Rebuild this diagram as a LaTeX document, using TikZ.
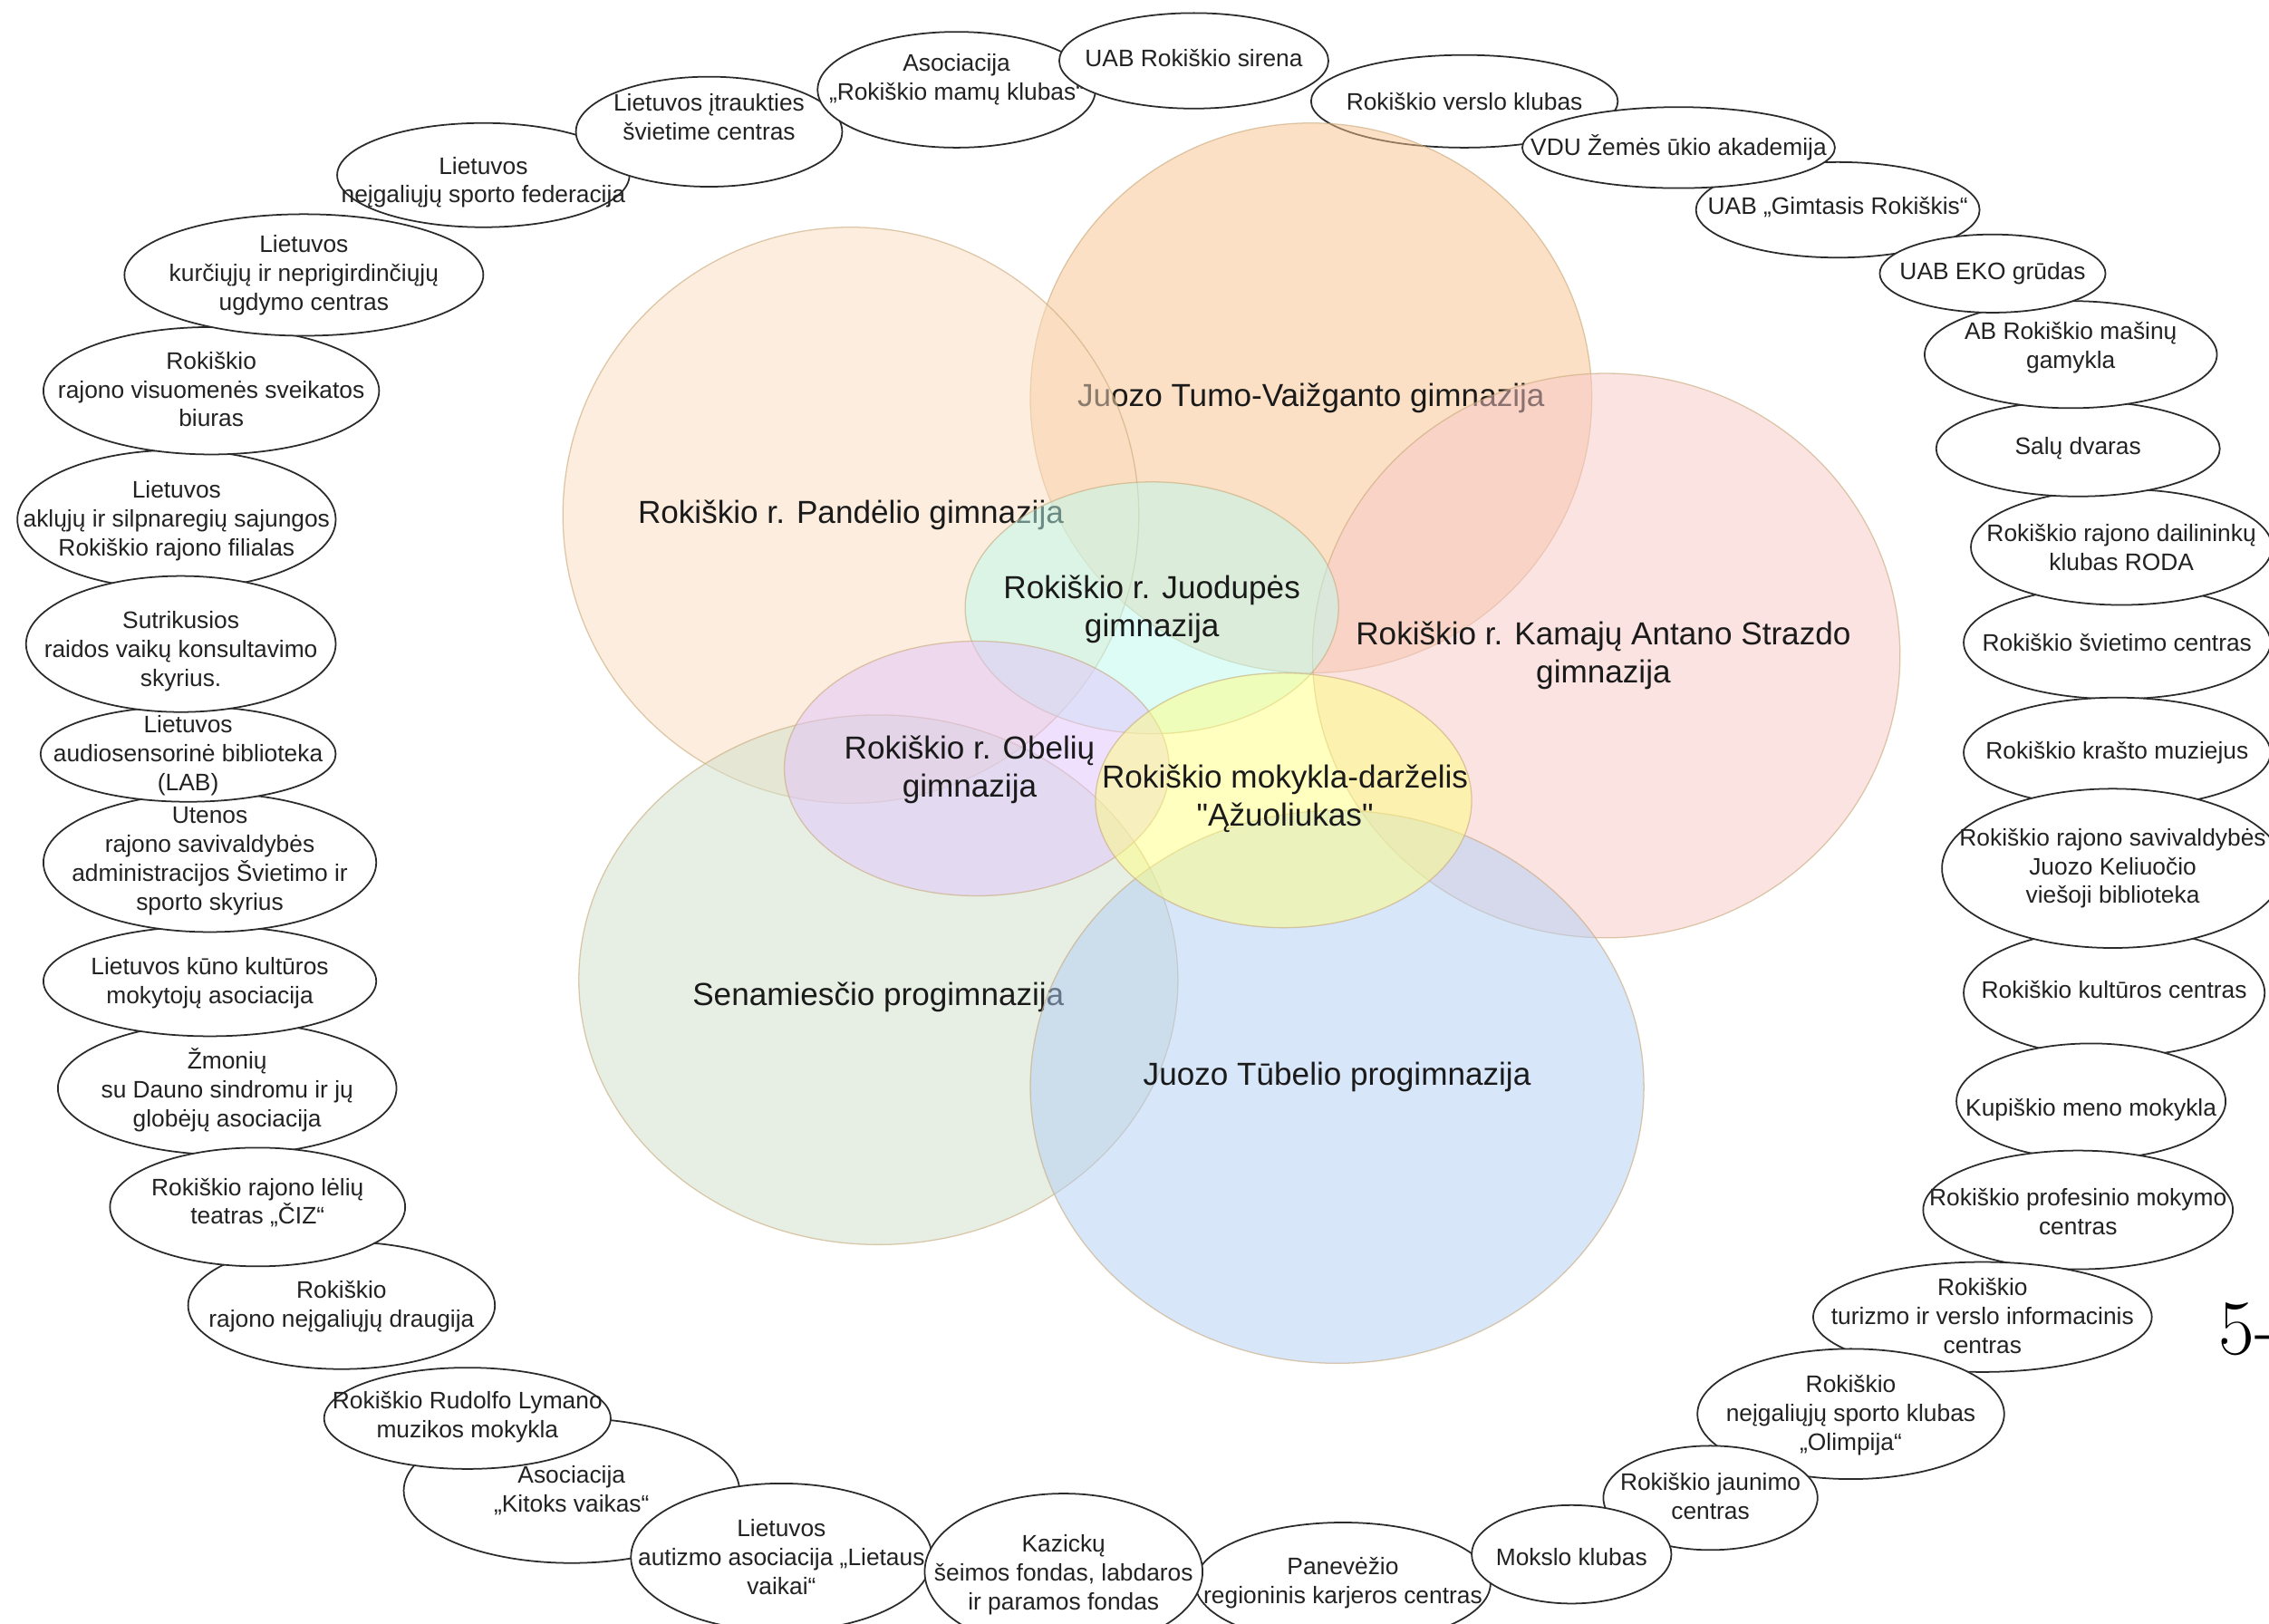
\documentclass[tikz,border=0pt]{standalone}
\usepackage{fontspec}
\usetikzlibrary{shapes.geometric}
\newfontfamily\arialf{Liberation Sans}
\definecolor{orgline}{HTML}{2B2B2B}
\definecolor{orgtxt}{HTML}{222222}
\definecolor{venntxt}{HTML}{1A1A1A}
\definecolor{vennline}{HTML}{C8A878}
\definecolor{cTumo}{HTML}{F9C38D}
\definecolor{cPand}{HTML}{FBDDBF}
\definecolor{cKam}{HTML}{F9C9C7}
\definecolor{cSen}{HTML}{D1E1CB}
\definecolor{cTub}{HTML}{B3CFF5}
\definecolor{cJuod}{HTML}{BDFBEF}
\definecolor{cObel}{HTML}{E1C4FD}
\definecolor{cAzuol}{HTML}{FFFF80}
\tikzset{
  orgshape/.style={ellipse, draw=orgline, line width=1.1pt, fill=white, inner sep=0pt, outer sep=0pt},
  orgtext/.style={font=\arialf\fontsize{16.5}{20}\selectfont, text=orgtxt, align=center, inner sep=0pt},
  vennshape/.style={ellipse, draw=vennline, draw opacity=0.6, line width=0.8pt, fill opacity=0.5, inner sep=0pt, outer sep=0pt},
  venntext/.style={font=\arialf\fontsize{22}{26.5}\selectfont, text=venntxt, align=center, inner sep=0pt, text opacity=1, fill opacity=1, draw opacity=1},
}
\newcommand{\orgell}[7]{%
  \node[orgshape, minimum width={2*(#4)}, minimum height={2*(#5)},
        label={[orgtext, yshift={-1pt*(#6)}]center:{#7}}] (#1) at (#2,#3) {};}
\newcommand{\vennell}[9]{%
  \node[vennshape, fill=#4, minimum width={2*(#5)}, minimum height={2*(#6)},
        label={[venntext, xshift={1pt*(#7)}, yshift={-1pt*(#8)}]center:{#9}}] (#1) at (#2,#3) {};}
\begin{document}
\begin{tikzpicture}[x=1pt,y=-1pt]
\useasboundingbox (0,0) rectangle (1568,1122);
\clip (0,0) rectangle (1568,1122);
\fill[white] (0,0) rectangle (1568,1122);
% outer organisations (drawing order = stacking order)
\orgell{sviet}{1463}{444}{106}{39}{0}{Rokiškio švietimo centras}
\orgell{roda}{1466}{378}{104}{40}{0}{Rokiškio rajono dailininkų\\klubas RODA}
\orgell{salu}{1436}{310}{98}{33}{0}{Salų dvaras}
\orgell{mas}{1431}{245}{101}{37}{-5}{AB Rokiškio mašinų\\gamykla}
\orgell{gimt}{1270}{145}{98}{33}{-2}{UAB „Gimtasis Rokiškis“}
\orgell{eko}{1377}{189}{78}{27}{0}{UAB EKO grūdas}
\orgell{versl}{1012}{70}{106}{32}{0}{Rokiškio verslo klubas}
\orgell{vdu}{1160}{102}{108}{28}{0}{VDU Žemės ūkio akademija}
\orgell{muz}{1463}{520}{106}{38}{0}{Rokiškio krašto muziejus}
\orgell{kult}{1461}{686}{104}{44}{-2}{Rokiškio kultūros centras}
\orgell{bibl}{1460}{600}{118}{55}{0}{Rokiškio rajono savivaldybės\\Juozo Keliuočio\\viešoji biblioteka}
\orgell{kup}{1445}{761}{93}{40}{6}{Kupiškio meno mokykla}
\orgell{prof}{1436}{836}{107}{41}{1}{Rokiškio profesinio mokymo\\centras}
\orgell{tur}{1370}{910}{117}{38}{-1}{Rokiškio\\turizmo ir verslo informacinis\\centras}
\orgell{olimp}{1279}{977}{106}{45}{1}{Rokiškio\\neįgaliųjų sporto klubas\\„Olimpija“}
\orgell{jaun}{1182}{1035}{74}{36}{-1}{Rokiškio jaunimo\\centras}
\orgell{panev}{928}{1094}{102}{42}{0}{Panevėžio\\regioninis karjeros centras}
\orgell{moksl}{1086}{1074}{69}{34}{2}{Mokslo klubas}
\orgell{kitok}{395}{1030}{116}{50}{0}{Asociacija\\„Kitoks vaikas“}
\orgell{autiz}{540}{1076}{104}{51}{0}{Lietuvos\\autizmo asociacija „Lietaus\\vaikai“}
\orgell{kazic}{735}{1086}{96}{54}{2}{Kazickų\\šeimos fondas, labdaros\\ir paramos fondas}
\orgell{draug}{236}{902}{106}{44}{1}{Rokiškio\\rajono neįgaliųjų draugija}
\orgell{lyman}{323}{980}{99}{35}{-1}{Rokiškio Rudolfo Lymano\\muzikos mokykla}
\orgell{dauno}{157}{752}{117}{46}{1}{Žmonių\\su Dauno sindromu ir jų\\globėjų asociacija}
\orgell{ciz}{178}{834}{102}{41}{-3}{Rokiškio rajono lėlių\\teatras „ČIZ“}
\orgell{kuno}{145}{678}{115}{38}{1}{Lietuvos kūno kultūros\\mokytojų asociacija}
\orgell{uten}{145}{596}{115}{48}{-1}{Utenos\\rajono savivaldybės\\administracijos Švietimo ir\\sporto skyrius}
\orgell{lab}{130}{521}{102}{33}{1}{Lietuvos\\audiosensorinė biblioteka\\(LAB)}
\orgell{aklu}{122}{359}{110}{48}{1}{Lietuvos\\aklųjų ir silpnaregių sajungos\\Rokiškio rajono filialas}
\orgell{sutr}{125}{445}{107}{47}{5}{Sutrikusios\\raidos vaikų konsultavimo\\skyrius.}
\orgell{visu}{146}{270}{116}{44}{-1}{Rokiškio\\rajono visuomenės sveikatos\\biuras}
\orgell{feder}{334}{121}{101}{36}{5}{Lietuvos\\neįgaliųjų sporto federacija}
\orgell{kurc}{210}{190}{124}{42}{0}{Lietuvos\\kurčiųjų ir neprigirdinčiųjų\\ugdymo centras}
\orgell{itrauk}{490}{91}{92}{38}{-10}{Lietuvos įtraukties\\švietime centras}
\orgell{mamu}{661}{62}{96}{40}{-7}{Asociacija\\„Rokiškio mamų klubas“}
\orgell{siren}{825}{42}{93}{33}{-2}{UAB Rokiškio sirena}
% schools (Venn)
\vennell{tumo}{906}{275}{cTumo}{194}{190}{0}{0}{Juozo Tumo-Vaižganto gimnazija}
\vennell{pand}{588}{356}{cPand}{199}{199}{0}{0}{Rokiškio r. Pandėlio gimnazija}
\vennell{kam}{1110}{453}{cKam}{203}{195}{-2}{0}{Rokiškio r. Kamajų Antano Strazdo\\gimnazija}
\vennell{sen}{607}{677}{cSen}{207}{183}{0}{12}{Senamiesčio progimnazija}
\vennell{tub}{924}{751}{cTub}{212}{191}{0}{-7}{Juozo Tūbelio progimnazija}
\vennell{juod}{796}{420}{cJuod}{129}{87}{0}{1}{Rokiškio r. Juodupės\\gimnazija}
\vennell{obel}{675}{531}{cObel}{133}{88}{-5}{1}{Rokiškio r. Obelių\\gimnazija}
\vennell{azuol}{887}{553}{cAzuol}{130}{88}{1}{-1}{Rokiškio mokykla-darželis\\"Ąžuoliukas"}
% cut-off page text at right edge
\node[anchor=base west, inner sep=0pt, font=\fontsize{54}{60}\selectfont] (pagemark) at (1533,936) {5-};
\end{tikzpicture}
\end{document}
